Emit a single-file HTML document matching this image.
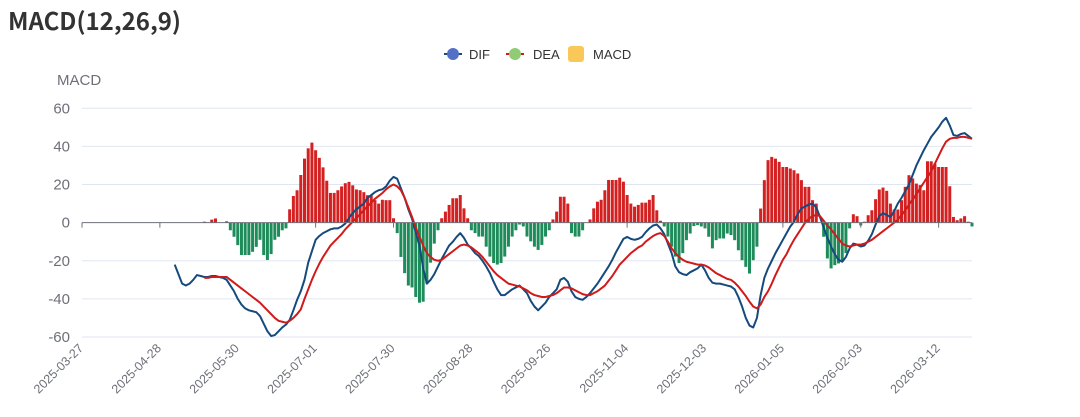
<!DOCTYPE html>
<html><head><meta charset="utf-8"><style>
html,body{margin:0;padding:0;background:#fff;}
body{width:1080px;height:412px;overflow:hidden;font-family:"Liberation Sans",sans-serif;}
</style></head><body>
<svg id="chart" width="1080" height="412" xmlns="http://www.w3.org/2000/svg" style="font-family:'Liberation Sans',sans-serif">
<text x="8" y="30" font-size="24" font-weight="bold" fill="#333" style="font-family:'Noto Sans CJK SC','Liberation Sans',sans-serif">MACD(12,26,9)</text>
<g>
 <g>
  <line x1="444" y1="54" x2="462" y2="54" stroke="#154a7d" stroke-width="2"/>
  <circle cx="453" cy="54" r="6" fill="#5470c6"/>
  <text x="469" y="59" font-size="13" fill="#333">DIF</text>
 </g>
 <g>
  <line x1="506" y1="54" x2="524" y2="54" stroke="#d11a1a" stroke-width="2"/>
  <circle cx="515" cy="54" r="6" fill="#91cc75"/>
  <text x="533" y="59" font-size="13" fill="#333">DEA</text>
 </g>
 <g>
  <rect x="568" y="46" width="16" height="16" rx="3" fill="#fac858"/>
  <text x="593" y="59" font-size="13" fill="#333">MACD</text>
 </g>
</g>
<text x="57" y="85" font-size="15" fill="#6e7079">MACD</text>
<g id="grid"></g>
<g id="bars"></g>
<g id="lines"></g>
<g id="xaxis"></g>
</svg>
<script>
const tickValues=[60,40,20,0,-20,-40,-60];
const dateLabels=["2025-03-27","2025-04-28","2025-05-30","2025-07-01","2025-07-30","2025-08-28","2025-09-26","2025-11-04","2025-12-03","2026-01-05","2026-02-03","2026-03-12"];
const categoryCount=241;
const labelInterval=21;
const difStart=25;
const difValues=[-22,-27,-32,-33,-32,-30,-27.5,-28,-28.5,-28.5,-28,-28,-28.5,-29,-30,-33,-36,-40,-43,-45,-46,-46.5,-47,-49,-53,-57,-59.5,-59,-57,-55,-53.5,-51,-46,-40.5,-36,-30,-21,-15,-9,-7,-5.5,-4.5,-3.5,-3,-3,-2,-0.5,2.5,5,7,8.5,10,13,14.5,16,17,17.5,19,22,24,23,18,13,7,2,-5,-12,-24,-32,-30,-27,-23,-19,-15.5,-12,-10,-7.5,-5.5,-8,-11.5,-13.5,-16,-17.5,-20,-23,-26.5,-31,-35,-38,-38,-36.5,-35,-34,-33,-35,-37,-41,-44,-46,-44,-42,-39,-37,-35,-30,-29,-31,-36,-39,-40,-40.5,-39,-37,-34.5,-32,-29,-26,-23,-19.5,-15.5,-12,-8.5,-7.5,-8.5,-9,-8.5,-7.5,-5,-3,-1.5,-1,-3,-6,-11,-16,-23,-26,-27,-27.5,-26,-25,-24,-22,-25,-29,-31.5,-32,-32,-32.5,-33,-33.5,-35,-39,-44,-50,-54,-55,-50,-38,-29,-24,-20,-16,-12.5,-9,-5.5,-2,0.5,4.5,7.5,8.5,9.5,10,8,3,-2.5,-8,-12.5,-16.5,-19.5,-20.5,-18,-13.5,-11,-11.5,-12.5,-12,-9.5,-6,-1,3.5,5,4,3,6,10,13,16.5,20,25,30,34,38,41.5,45,47.5,50,53,55,51,46,45.5,46.5,47,45.5,44];
const deaStart=33;
const deaValues=[-29,-29,-28.5,-28.5,-28.5,-28.5,-28.5,-30,-31.5,-33,-34.5,-36,-37.5,-39,-40.5,-42,-44,-46,-48,-50,-51.5,-52,-52.5,-51.5,-50,-48,-45.5,-40,-35,-30,-25.5,-21.5,-18,-15,-12,-10,-8,-6,-3.5,-1.5,0.5,2.5,4.5,6.5,8.5,10.5,12.5,14,15.5,17.5,19,20,19,17,13,8,3,-2.5,-7.5,-12,-16,-18,-19.5,-20,-19.5,-18,-16.5,-15,-13.5,-12,-11.5,-12,-13,-14.5,-16,-18,-20.5,-23,-25.5,-27.5,-29,-30.5,-32,-32.5,-33,-33.5,-34.5,-35.5,-37,-38,-38.5,-39,-39,-38.5,-38,-37,-35.5,-34,-34,-34.5,-35.5,-36.5,-37.5,-38,-38,-37,-36,-34.5,-33,-30.5,-28,-25,-22,-20,-18,-16,-14.5,-13,-12,-10,-8.5,-7,-6,-5.5,-7,-10,-13.5,-16,-18,-19.5,-20.5,-21,-21.5,-22,-22,-22.5,-23.5,-25,-26.5,-27.5,-28.5,-29.5,-30,-31.5,-33.5,-36,-38.5,-41.5,-44,-45,-43,-39,-36,-32,-27.5,-23.5,-19.5,-16.5,-12.5,-9,-6,-3,0,2,3.5,4,3.5,1,-1.5,-3.5,-6,-8.5,-11,-12,-12.5,-12,-11.5,-11.5,-11,-10,-9,-7.5,-6,-4.5,-3,-1.5,0,1.5,4,6.5,9.5,12,15,18,21,24,27,31,35,39,42.5,44,44.5,44.5,45,45,44.5,44];
const macdStart=33;
const macdValues=[0.5,0,1.6,2.2,0,0,0.7,-4,-7.4,-11.8,-17,-17,-17,-15.3,-12.7,-9,-17,-19.6,-16.5,-9,-7.4,-4,-3,7,14,17,25,33.6,39,42,38,34,29,22,15.6,15.6,17,19,20.7,21.4,19.6,17.4,17,16,14.4,14.4,11.8,10,12,11.8,11.8,2.3,-5.5,-18,-26.5,-33,-34,-39,-42,-41.5,-32,-21,-11,-4,2.3,5.8,9.3,12.8,12.8,14.5,7.5,2.3,-4,-5.5,-7.3,-7.3,-12.6,-17.8,-21.2,-22,-21.2,-17.8,-12.6,-7.3,-4,-1,-2,-7.3,-9.8,-12.6,-14.3,-11.7,-7.3,-4,1.7,5.8,13.6,13.6,10,-5.5,-7.3,-7.3,-4,0,1.7,7.5,11,12,17,22.4,22.4,22.4,23.6,21.5,14.5,10,8.4,9.3,10.5,10.5,12,14.5,6.5,1,-2,-7.3,-12.6,-17.8,-21.2,-16,-9.2,-5.7,-1.8,-1.3,-2,-3,-7.4,-13.5,-9.2,-8.3,-8.3,-5.7,-6.5,-9.2,-14.5,-19.7,-23.2,-26.7,-19.7,-12.6,7.4,22.3,32.8,34.5,33.6,31.9,29.2,29.2,28.4,27.5,25.8,22.3,18.8,18.8,11.8,10,0,-7.4,-18.8,-24,-22.3,-21.4,-20.5,-16,-3,4.4,3.4,-1.5,0.5,3.9,6.5,12.3,17.4,18.4,16.7,10,6.9,6.9,11.8,18.8,24.9,23.2,20.5,19.7,17,32.2,32.2,31,29.2,29.2,29.2,19.1,3,1.3,2.2,3.4,0.5,-2];

const NS='http://www.w3.org/2000/svg';
const plotLeft=82, plotRight=972, yTop=108.3, yBottom=337, vMax=60, vMin=-60;
function xScale(i){return plotLeft+i*(plotRight-plotLeft)/(categoryCount-1);}
function yScale(v){return yTop+(vMax-v)*(yBottom-yTop)/(vMax-vMin);}
function mk(tag,attrs,parent){const e=document.createElementNS(NS,tag);for(const k in attrs)e.setAttribute(k,attrs[k]);parent.appendChild(e);return e;}

const grid=document.getElementById('grid');
tickValues.forEach(v=>{
  if(v!==0){
    const l=mk('line',{x1:plotLeft,x2:plotRight,y1:yScale(v),y2:yScale(v),stroke:'#e0e6f1','stroke-width':1},grid);
    
    
  }
  const t=mk('text',{x:70,y:yScale(v)+5,'text-anchor':'end','font-size':15,fill:'#6e7079'},grid);
  t.textContent=String(v);
  
  
});

const bars=document.getElementById('bars');
macdValues.forEach((v,k)=>{
  const i=macdStart+k;
  const x=xScale(i), y0=yScale(0), y1=yScale(v);
  const r=mk('rect',{x:x-1.5,y:Math.min(y0,y1),width:3,height:Math.max(Math.abs(y1-y0),0.01),fill:v>=0?'#d42020':'#1e8c5a'},bars);
  
  
});

const lines=document.getElementById('lines');
function path(vals,start){return vals.map((v,k)=>(k?'L':'M')+xScale(start+k).toFixed(2)+' '+yScale(v).toFixed(2)).join(' ');}
const difPath=mk('path',{d:path(difValues,difStart),fill:'none',stroke:'#154a7d','stroke-width':2,'stroke-linejoin':'round'},lines);


const deaPath=mk('path',{d:path(deaValues,deaStart),fill:'none',stroke:'#d11a1a','stroke-width':2,'stroke-linejoin':'round'},lines);



const xa=document.getElementById('xaxis');
const axisLine=mk('line',{x1:plotLeft,x2:plotRight,y1:yScale(0),y2:yScale(0),stroke:'#6e7079','stroke-width':1},xa);


dateLabels.forEach((d,k)=>{
  const i=k*labelInterval, x=xScale(i);
  const tk=mk('line',{x1:x,x2:x,y1:yScale(0),y2:yScale(0)+5,stroke:'#6e7079','stroke-width':1},xa);
  
  
  const t=mk('text',{x:x+2,y:349,'text-anchor':'end','font-size':12.5,fill:'#6e7079',transform:'rotate(-45 '+(x+2)+' 349)'},xa);
  t.textContent=d;
  
  
});
</script>
</body></html>
